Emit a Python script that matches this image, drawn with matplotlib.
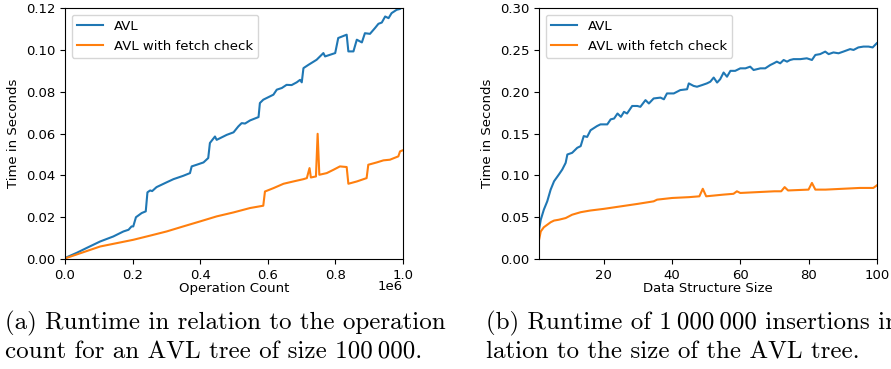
"""Runtime of AVL tree vs. AVL tree with fetch check (two panels with captions)."""

import matplotlib
matplotlib.use("Agg")
import matplotlib.pyplot as plt

# (a) runtime vs. operation count, tree size 100 000
ops_avl = [0.0, 0.035, 0.064, 0.104, 0.143, 0.173, 0.188, 0.197, 0.202, 0.210,
           0.227, 0.239, 0.244, 0.252, 0.258, 0.271, 0.301, 0.321, 0.350, 0.370,
           0.375, 0.390, 0.410, 0.424, 0.429, 0.444, 0.449, 0.479, 0.499, 0.513,
           0.523, 0.533, 0.548, 0.573, 0.577, 0.587, 0.597, 0.617, 0.627, 0.642,
           0.656, 0.671, 0.686, 0.696, 0.701, 0.706, 0.721, 0.745, 0.765, 0.770,
           0.800, 0.809, 0.834, 0.839, 0.854, 0.864, 0.879, 0.888, 0.903, 0.918,
           0.928, 0.938, 0.948, 0.958, 0.967, 0.982, 0.992, 1.0]
time_avl_a = [0.0005, 0.003, 0.0053, 0.0084, 0.0108, 0.0132, 0.0140, 0.0156, 0.0156, 0.0200,
              0.0220, 0.0228, 0.0319, 0.0328, 0.0325, 0.0344, 0.0367, 0.0382, 0.0398, 0.0411,
              0.0443, 0.0451, 0.0462, 0.0483, 0.0555, 0.0586, 0.0570, 0.0594, 0.0606, 0.0634,
              0.0650, 0.0648, 0.0663, 0.0679, 0.0746, 0.0762, 0.0770, 0.0786, 0.0810, 0.0818,
              0.0833, 0.0832, 0.0845, 0.0857, 0.0845, 0.0913, 0.0929, 0.0953, 0.0985, 0.0969,
              0.0985, 0.1057, 0.1073, 0.0993, 0.0993, 0.1049, 0.1036, 0.1080, 0.1077, 0.1105,
              0.1125, 0.1131, 0.1160, 0.1152, 0.1176, 0.1192, 0.1196, 0.1208]

ops_fetch = [0.0, 0.104, 0.202, 0.252, 0.301, 0.350, 0.400, 0.449, 0.499, 0.548,
             0.587, 0.592, 0.617, 0.647, 0.676, 0.706, 0.716, 0.724, 0.728, 0.743,
             0.748, 0.753, 0.775, 0.795, 0.814, 0.834, 0.839, 0.864, 0.893, 0.898,
             0.923, 0.943, 0.962, 0.987, 0.992, 1.0]
time_fetch_a = [0.0003, 0.0060, 0.0092, 0.0112, 0.0132, 0.0156, 0.0180, 0.0204, 0.0223, 0.0244,
                0.0255, 0.0323, 0.0339, 0.0360, 0.0371, 0.0382, 0.0387, 0.0435, 0.0390, 0.0395,
                0.0599, 0.0403, 0.0411, 0.0427, 0.0443, 0.0440, 0.0360, 0.0371, 0.0387, 0.0451,
                0.0462, 0.0472, 0.0475, 0.0491, 0.0515, 0.0520]

# (b) runtime of 1 000 000 insertions vs. data structure size
size_avl = [1.0, 1.5, 2.4, 3.4, 4.4, 5.4, 6.8, 7.8, 8.8, 9.3, 10.7, 12.2, 13.2, 14.1,
            15.1, 16.1, 18.0, 19.0, 20.0, 21.0, 22.0, 23.0, 24.0, 25.0, 25.9, 26.8,
            28.3, 29.8, 30.7, 32.2, 33.2, 34.6, 36.6, 37.6, 38.5, 40.5, 42.4, 44.4,
            44.9, 46.3, 47.3, 48.8, 50.2, 51.2, 52.2, 53.2, 54.1, 55.1, 56.1, 57.1,
            58.5, 60.0, 61.5, 62.9, 63.9, 65.9, 67.3, 68.8, 69.8, 70.7, 71.7, 72.7,
            73.7, 74.6, 75.6, 77.6, 79.5, 81.0, 82.0, 83.4, 84.9, 85.9, 87.3, 88.8,
            90.2, 92.2, 93.2, 94.6, 96.1, 97.6, 98.8, 100.0]
time_avl_b = [0.035, 0.047, 0.059, 0.069, 0.083, 0.093, 0.101, 0.107, 0.115, 0.125, 0.127,
              0.133, 0.135, 0.147, 0.146, 0.154, 0.159, 0.161, 0.161, 0.161, 0.167, 0.168,
              0.174, 0.170, 0.176, 0.174, 0.183, 0.183, 0.182, 0.190, 0.186, 0.192, 0.193,
              0.191, 0.198, 0.198, 0.202, 0.203, 0.210, 0.207, 0.206, 0.208, 0.210, 0.212,
              0.217, 0.211, 0.215, 0.223, 0.218, 0.225, 0.225, 0.228, 0.228, 0.230, 0.226,
              0.228, 0.228, 0.232, 0.234, 0.236, 0.234, 0.238, 0.236, 0.238, 0.239, 0.239,
              0.240, 0.238, 0.244, 0.245, 0.248, 0.245, 0.247, 0.246, 0.248, 0.251, 0.250,
              0.253, 0.254, 0.254, 0.253, 0.258]

size_fetch = [1.0, 1.5, 2.4, 3.4, 4.4, 5.4, 6.8, 8.8, 10.7, 13.2, 16.0, 20.0, 25.0, 30.0,
              34.6, 35.6, 40.0, 45.0, 48.0, 49.0, 50.0, 55.0, 58.0, 59.0, 60.0, 65.0,
              70.0, 72.0, 73.0, 74.0, 80.0, 81.0, 82.0, 85.0, 90.0, 95.0, 99.0, 100.0]
time_fetch_b = [0.023, 0.033, 0.038, 0.041, 0.044, 0.046, 0.047, 0.049, 0.053, 0.056,
                0.058, 0.060, 0.063, 0.066, 0.069, 0.071, 0.073, 0.074, 0.075, 0.084,
                0.075, 0.077, 0.078, 0.081, 0.079, 0.080, 0.081, 0.081, 0.086, 0.082,
                0.083, 0.091, 0.083, 0.083, 0.084, 0.085, 0.085, 0.088]

caption_a = "(a) Runtime in relation to the operation\ncount for an AVL tree of size 100\u2009000."
caption_b = "(b) Runtime of 1\u2009000\u2009000 insertions in re-\nlation to the size of the AVL tree."

FS = 9.5
plt.rcParams["font.size"] = FS

fig = plt.figure(figsize=(8.91, 3.69), dpi=100)
ax_a = fig.add_axes([0.073, 0.298, 0.379, 0.680])
ax_b = fig.add_axes([0.605, 0.298, 0.379, 0.680])

ax_a.plot(ops_avl, time_avl_a, label="AVL")
ax_a.plot(ops_fetch, time_fetch_a, label="AVL with fetch check")
ax_a.set_xlim(0, 1.0)
ax_a.set_ylim(0, 0.12)
ax_a.set_xticks([0.0, 0.2, 0.4, 0.6, 0.8, 1.0])
ax_a.set_xlabel("Operation Count", labelpad=0)
ax_a.set_ylabel("Time in Seconds")
ax_a.text(1.0, -0.085, "1e6", transform=ax_a.transAxes, ha="right", va="top", fontsize=FS)
ax_a.legend(loc="upper left")

ax_b.plot(size_avl, time_avl_b, label="AVL")
ax_b.plot(size_fetch, time_fetch_b, label="AVL with fetch check")
ax_b.set_xlim(1, 100)
ax_b.set_ylim(0, 0.30)
ax_b.set_xticks([20, 40, 60, 80, 100])
ax_b.set_xlabel("Data Structure Size", labelpad=0)
ax_b.set_ylabel("Time in Seconds")
ax_b.legend(loc="upper left")

for ax in (ax_a, ax_b):
    ax.yaxis.set_major_formatter(matplotlib.ticker.FormatStrFormatter("%.2f"))

cap_font = ["cmr10", "DejaVu Serif"]
fig.text(0.006, 0.085, caption_a, ha="left", va="center", fontsize=18,
         family=cap_font, linespacing=1.32)
fig.text(0.546, 0.085, caption_b, ha="left", va="center", fontsize=18,
         family=cap_font, linespacing=1.32)

fig.savefig("out.png", dpi=100)
